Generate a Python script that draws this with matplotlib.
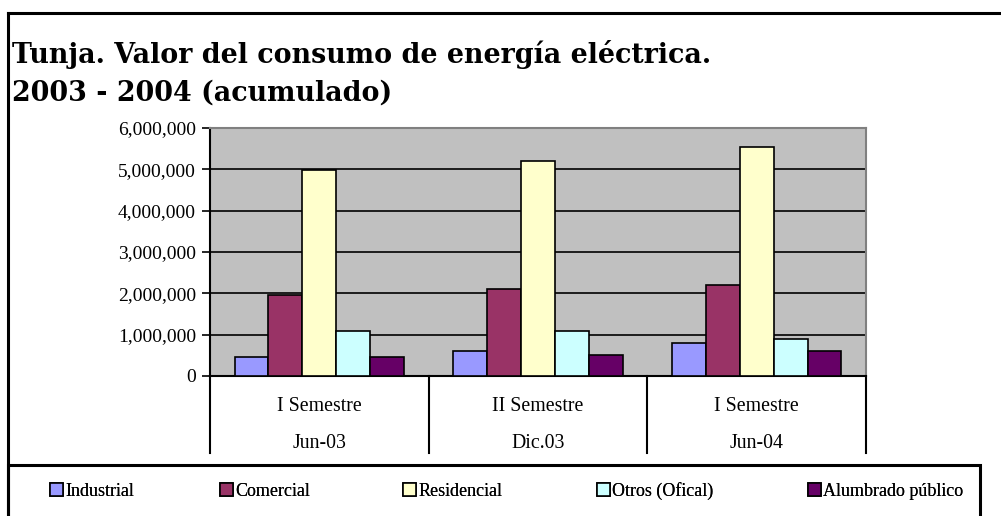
import numpy as np
import matplotlib.pyplot as plt
from matplotlib.patches import Rectangle
from matplotlib.lines import Line2D
from matplotlib.ticker import FuncFormatter

periodos = ['I Semestre', 'II Semestre', 'I Semestre']
fechas = ['Jun-03', 'Dic.03', 'Jun-04']
series = ['Industrial', 'Comercial', 'Residencial', 'Otros (Ofical)', 'Alumbrado público']
industrial = [460000, 610000, 800000]
comercial = [1955000, 2100000, 2210000]
residencial = [4990000, 5190000, 5530000]
otros = [1090000, 1090000, 900000]
alumbrado = [460000, 510000, 610000]
colores = ['#9999FF', '#993366', '#FFFFCC', '#CCFFFF', '#660066']

valores = [industrial, comercial, residencial, otros, alumbrado]

W, H = 1001, 516
fig = plt.figure(figsize=(W / 100, H / 100), dpi=100)
ax = fig.add_axes([210 / W, 1 - 376 / H, 656 / W, 248 / H])
ax.set_facecolor('#C0C0C0')

x = np.arange(len(fechas))
w = 0.155
handles = []
for i, (nombre, vals, c) in enumerate(zip(series, valores, colores)):
    b = ax.bar(x + (i - 2) * w, vals, w, color=c, edgecolor='black', linewidth=1.2,
               label=nombre, zorder=3)
    handles.append(b)

ax.set_xlim(-0.5, 2.5)
ax.set_ylim(0, 6000000)
ax.set_yticks(np.arange(0, 6000001, 1000000))
ax.yaxis.set_major_formatter(FuncFormatter(lambda v, p: f'{int(v):,}'))
ax.yaxis.grid(True, color='black', linewidth=1.2, zorder=1)
ax.set_axisbelow(True)
ax.set_xticks([])
ax.tick_params(axis='y', length=6, width=1.2, direction='out', labelsize=14, pad=4)
for lab in ax.get_yticklabels():
    lab.set_fontfamily('Liberation Serif')

for s in ['top', 'right']:
    ax.spines[s].set_color('#808080')
for s in ax.spines:
    ax.spines[s].set_linewidth(1.5)

# etiquetas de categoría en dos niveles
trans = ax.get_xaxis_transform()
for xi, p, f in zip(x, periodos, fechas):
    ax.text(xi, -0.121, p, transform=trans, ha='center', va='center',
            fontsize=14.3, family='Liberation Serif')
    ax.text(xi, -0.274, f, transform=trans, ha='center', va='center',
            fontsize=14.3, family='Liberation Serif')
for xs in np.arange(-0.5, 3.0, 1.0):
    ax.add_line(Line2D([xs, xs], [0, -0.31], transform=trans, color='black',
                       linewidth=1.5, clip_on=False))

# marco exterior y caja de leyenda
fig.add_artist(Line2D([8 / W, 8 / W], [0, 1 - 13 / H], color='black', linewidth=2.2))
fig.add_artist(Line2D([8 / W, 1], [1 - 13 / H, 1 - 13 / H], color='black', linewidth=2.2))
fig.add_artist(Rectangle((8 / W, -0.01), 972 / W, (H - 465) / H + 0.01,
                         transform=fig.transFigure, fill=False, edgecolor='black', linewidth=2.2))

fig.text(12 / W, 1 - 63 / H, 'Tunja. Valor del consumo de energía eléctrica.',
         ha='left', va='baseline', fontsize=19.4, fontweight='bold', family='DejaVu Serif')
fig.text(12 / W, 1 - 101 / H, '2003 - 2004 (acumulado)',
         ha='left', va='baseline', fontsize=19.4, fontweight='bold', family='DejaVu Serif')

# una entrada de leyenda por posición
pos_leyenda = [50, 220, 403, 597, 808]
for h, nombre, px in zip(handles, series, pos_leyenda):
    leg = fig.legend(handles=[h], labels=[nombre], loc='center left',
                     bbox_to_anchor=(px / W, 1 - 491 / H), frameon=False,
                     handlelength=0.7, handleheight=0.7, handletextpad=0.15,
                     borderpad=0, borderaxespad=0,
                     prop={'family': 'Liberation Serif', 'size': 13})
    fig.add_artist(leg)

fig.savefig('out.png', dpi=100)
